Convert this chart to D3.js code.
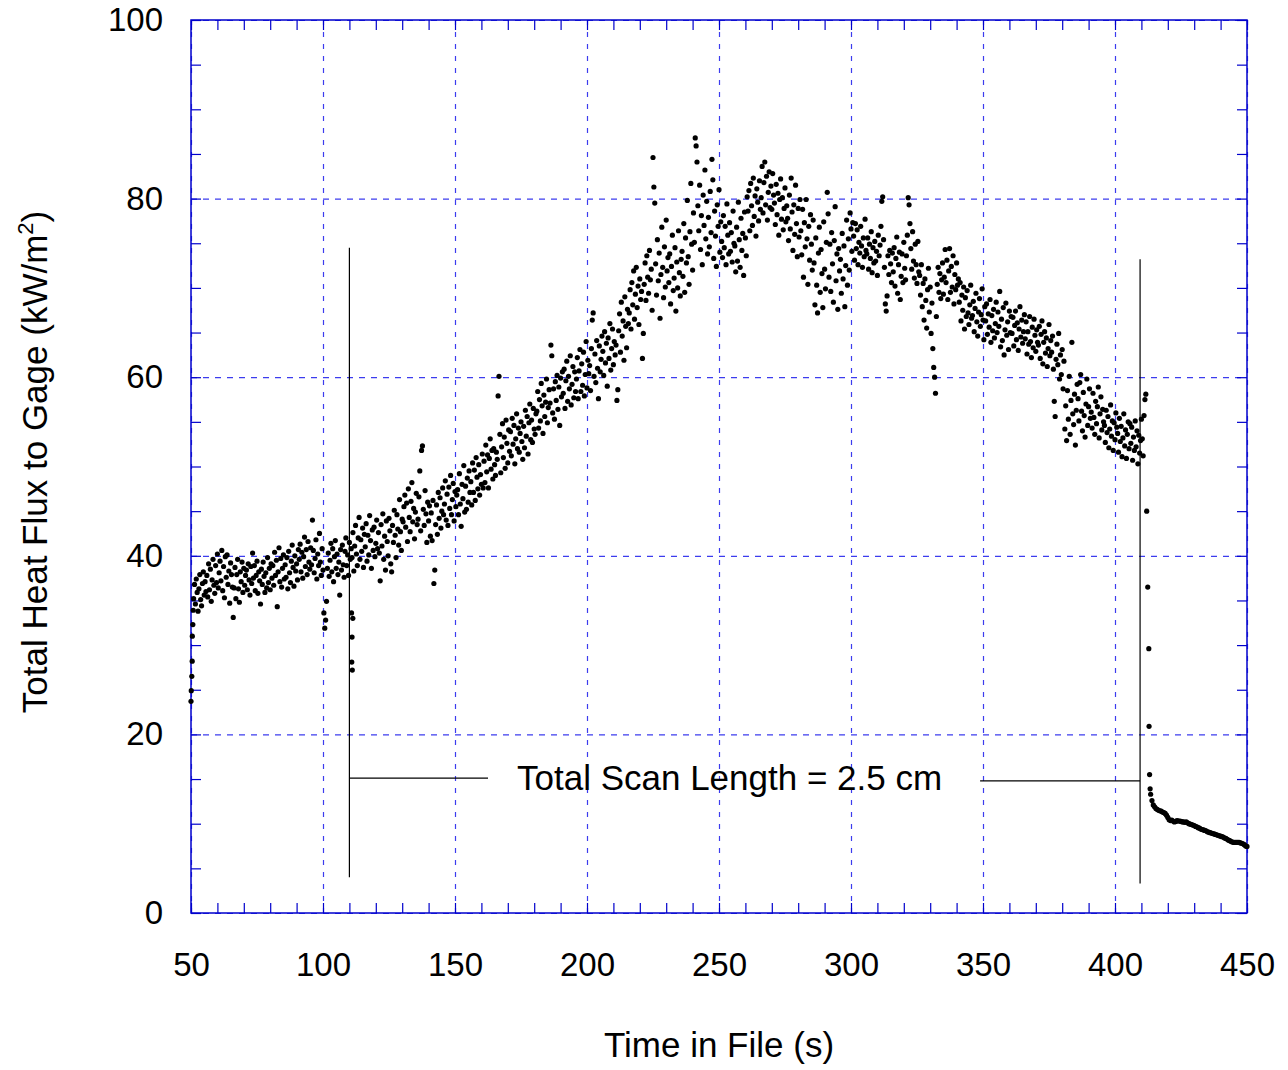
<!DOCTYPE html>
<html>
<head>
<meta charset="utf-8">
<script src="https://cdn.jsdelivr.net/npm/d3@7"></script>
<style>
  body { margin: 0; background: #fff; }
  svg { font-family: "Liberation Sans", Arial, sans-serif; }
</style>
</head>
<body>
<script>
// Sampled flux readings (kW/m2), 3 samples per second, each segment 50 s long
var timeStep = 1 / 3;
var segmentStarts = [51, 101, 151, 201, 251, 301, 351, 401];

var flux051 = [
  35.2, 36.8, 34.6, 37.4, 35.9, 33.8, 36.3, 37.9, 35.1, 34.4, 36.9, 38.2, 35.6, 37.1, 36.0,
  37.8, 35.4, 39.1, 36.2, 38.5, 34.9, 37.3, 39.6, 36.7, 35.8, 38.9, 37.0, 40.2, 36.4, 38.1,
  39.4, 37.2, 40.6, 36.1, 38.8, 35.3, 39.9, 37.6, 40.1, 36.8, 38.3, 34.7, 39.2, 37.9, 36.5,
  33.1, 36.4, 38.7, 35.2, 37.9, 39.6, 36.3, 34.8, 38.2, 37.1, 39.3, 35.9, 38.6, 36.7, 37.8,
  38.4, 36.2, 39.1, 37.3, 35.6, 38.8, 36.9, 40.3, 37.5, 38.9, 36.1, 37.8, 39.4, 35.8, 38.2,
  37.2, 34.6, 38.5, 36.8, 39.3, 37.7, 35.9, 38.1, 36.4, 39.8, 37.0, 38.6, 36.2, 39.1, 37.5,
  38.9, 36.7, 40.4, 37.8, 39.5, 34.3, 38.2, 40.9, 37.1, 39.7, 36.5, 38.6, 40.1, 37.4, 39.0,
  37.6, 39.8, 36.3, 40.5, 38.1, 37.0, 39.4, 41.2, 38.7, 36.6, 40.0, 38.3, 39.1, 37.3, 40.7,
  39.6, 41.3, 38.2, 40.4, 37.5, 39.9, 42.1, 38.8, 40.7, 37.9, 41.6, 39.3, 38.5, 40.9, 39.0,
  44.0, 40.6, 38.1, 39.7, 41.8, 37.4, 40.2, 38.9, 42.5, 39.3, 37.8, 40.8, 38.4, 33.6, 31.9
];
var flux101 = [
  32.8, 34.9, 38.6, 40.3, 37.7, 39.5, 41.4, 38.2, 40.8, 37.1, 39.9, 41.7, 38.6, 40.2, 37.9,
  39.3, 35.6, 40.7, 38.4, 41.2, 39.0, 37.6, 40.5, 42.0, 38.9, 40.1, 37.8, 41.5, 39.6, 40.8,
  39.8, 42.6, 38.3, 41.1, 43.4, 40.2, 38.9, 42.0, 44.3, 39.6, 41.8, 40.5, 43.1, 38.7, 42.4,
  41.0, 43.6, 39.4, 42.3, 40.1, 44.5, 41.7, 38.6, 42.9, 40.6, 43.2, 39.9, 41.4, 44.0, 40.8,
  42.6, 40.3, 37.2, 43.5, 41.1, 44.7, 39.6, 42.2, 38.4, 43.9, 41.6, 40.0, 44.2, 42.8, 39.1,
  38.2, 43.4, 41.5, 45.1, 42.3, 39.8, 44.6, 43.0, 41.2, 46.3, 42.7, 40.6, 44.1, 43.8, 45.5,
  46.8, 43.2, 45.9, 41.6, 47.5, 44.3, 42.7, 46.1, 48.2, 43.8, 45.3, 41.9, 44.9, 47.0, 43.5,
  44.1, 46.6, 49.5, 42.8, 51.8, 52.3, 45.2, 43.4, 47.3, 44.7, 41.5, 46.0, 43.9, 45.6, 42.2,
  44.8, 41.7, 46.2, 36.9, 38.4, 43.5, 45.7, 42.4, 47.1, 44.2, 46.5, 43.1, 45.0, 47.6, 44.6,
  45.8, 48.4, 44.0, 46.9, 43.4, 47.7, 45.3, 49.0, 44.6, 46.3, 48.1, 43.9, 47.2, 45.5, 46.8
];
var flux151 = [
  47.4, 44.6, 49.2, 45.8, 43.3, 48.0, 46.4, 50.1, 44.9, 47.8, 45.2, 48.7, 46.0, 49.5, 47.1,
  48.3, 45.7, 50.4, 47.1, 49.6, 46.2, 51.0, 48.8, 47.5, 50.2, 46.8, 49.1, 48.0, 51.4, 47.6,
  50.6, 48.2, 52.4, 49.4, 51.3, 47.6, 50.9, 53.1, 49.7, 51.8, 48.6, 52.0, 50.2, 49.0, 51.6,
  50.8, 57.9, 60.1, 53.6, 49.3, 52.2, 54.8, 51.0, 53.3, 49.8, 55.2, 52.6, 50.4, 54.1, 51.7,
  53.9, 51.2, 55.4, 52.5, 54.6, 50.3, 53.1, 55.9, 52.0, 54.3, 51.6, 53.7, 55.0, 52.8, 50.8,
  54.5, 52.1, 56.3, 53.4, 55.6, 51.4, 54.9, 57.0, 53.0, 55.2, 52.7, 56.5, 54.2, 53.6, 55.9,
  56.2, 58.4, 54.3, 57.5, 55.1, 59.3, 56.8, 53.7, 58.0, 55.6, 57.2, 59.8, 54.9, 56.6, 58.6,
  57.1, 63.6, 62.4, 56.0, 58.7, 55.3, 59.5, 57.4, 60.2, 56.4, 58.9, 54.6, 59.9, 57.8, 60.6,
  58.2, 60.9, 56.5, 59.6, 61.8, 57.3, 60.1, 58.7, 62.4, 56.9, 59.2, 61.2, 57.7, 60.6, 58.4,
  59.8, 62.2, 57.6, 60.7, 63.1, 58.4, 61.5, 59.1, 62.8, 57.9, 60.3, 64.0, 58.8, 61.9, 60.4
];
var flux201 = [
  61.3, 58.5, 63.2, 66.4, 67.2, 60.1, 62.6, 59.4, 64.1, 61.0, 57.6, 63.5, 60.6, 62.0, 64.6,
  62.9, 60.2, 65.1, 61.6, 63.8, 59.0, 64.4, 62.1, 66.0, 60.8, 63.2, 65.4, 61.4, 64.0, 62.5,
  63.6, 57.4, 58.6, 65.2, 67.1, 62.8, 68.4, 64.6, 66.3, 61.9, 69.0, 65.7, 63.3, 67.6, 66.0,
  67.2, 69.8, 65.4, 70.6, 68.1, 71.9, 66.5, 69.3, 72.3, 67.8, 70.2, 65.9, 71.0, 68.7, 69.6,
  62.1, 64.9, 70.4, 72.8, 68.6, 73.6, 71.2, 69.4, 74.2, 70.9, 72.1, 67.5, 84.6, 81.3, 79.5,
  72.7, 69.2, 75.4, 70.8, 73.9, 66.6, 71.5, 76.8, 72.3, 68.9, 74.6, 70.1, 77.6, 71.9, 73.4,
  70.6, 73.8, 68.2, 72.4, 75.9, 69.7, 71.1, 74.5, 67.4, 72.9, 70.0, 76.4, 71.7, 69.1, 73.2,
  74.1, 71.3, 77.2, 69.5, 75.6, 72.8, 79.8, 73.5, 70.4, 76.3, 81.7, 74.9, 72.0, 78.4, 75.1,
  86.8, 85.9, 84.1, 79.2, 76.4, 81.5, 74.3, 78.1, 72.6, 80.4, 77.0, 83.2, 75.5, 79.7, 73.8,
  77.9, 74.6, 80.8, 76.2, 84.4, 82.1, 73.3, 78.6, 75.8, 72.4, 79.3, 76.9, 81.0, 74.0, 77.4
];
var flux251 = [
  75.2, 73.4, 78.1, 74.5, 76.9, 72.6, 79.4, 75.9, 73.8, 77.3, 74.1, 76.2, 72.9, 78.6, 75.0,
  74.7, 71.8, 76.8, 73.0, 79.6, 75.4, 72.3, 77.8, 74.2, 76.1, 71.4, 78.5, 75.6, 73.6, 80.2,
  78.6, 80.9, 76.4, 81.7, 79.2, 77.0, 82.3, 78.0, 80.3, 75.8, 81.1, 79.6, 77.5, 82.0, 78.8,
  80.1, 83.6, 78.4, 81.8, 84.1, 79.3, 82.5, 77.6, 80.7, 83.0, 79.0, 81.4, 78.8, 82.8, 80.4,
  79.5, 77.1, 81.6, 78.2, 80.6, 75.9, 79.9, 82.2, 77.7, 80.1, 76.5, 78.9, 81.2, 77.4, 79.2,
  77.8, 75.3, 80.4, 76.6, 82.3, 78.5, 74.2, 79.3, 76.0, 81.5, 77.2, 73.5, 78.9, 75.7, 79.9,
  76.4, 73.7, 78.8, 71.2, 77.3, 74.6, 79.9, 75.5, 70.4, 76.9, 73.1, 78.2, 74.9, 72.0, 77.6,
  72.8, 68.1, 75.6, 70.3, 67.2, 73.9, 76.8, 69.5, 74.3, 71.6, 67.8, 77.4, 72.1, 69.9, 75.1,
  80.7, 78.3, 71.2, 74.9, 69.6, 76.2, 72.7, 68.4, 75.3, 79.1, 70.8, 73.8, 67.6, 74.4, 71.9,
  73.2, 69.4, 76.1, 71.0, 74.7, 67.9, 72.5, 77.6, 70.3, 75.5, 72.0, 78.4, 76.6, 74.1, 77.3
];
var flux301 = [
  75.8, 73.1, 77.2, 74.4, 76.5, 72.6, 75.1, 73.9, 76.9, 74.7, 72.3, 75.6, 73.5, 77.7, 74.2,
  73.8, 75.6, 72.1, 74.9, 73.3, 76.3, 71.7, 74.5, 72.8, 75.2, 73.0, 74.1, 71.4, 75.9, 73.6,
  74.8, 76.9, 79.7, 80.2, 75.4, 72.3, 68.2, 67.4, 69.1, 73.6, 71.5, 74.2, 72.7, 70.6, 73.9,
  71.8, 74.5, 70.2, 73.3, 75.7, 69.4, 72.6, 74.0, 68.7, 71.3, 73.8, 70.6, 75.1, 72.2, 70.9,
  73.6, 75.9, 80.1, 79.3, 77.2, 74.4, 72.1, 76.3, 73.0, 71.1, 74.9, 72.6, 70.5, 75.2, 71.8,
  71.4, 69.2, 72.6, 67.9, 70.5, 66.4, 71.0, 68.6, 65.5, 69.8, 72.2, 67.3, 70.1, 64.9, 68.3,
  63.2, 61.1, 60.0, 58.2, 66.8, 70.4, 72.3, 69.5, 71.6, 68.8, 70.9, 72.8, 69.3, 71.2, 74.3,
  70.6, 73.1, 68.7, 71.9, 74.4, 69.5, 72.4, 70.1, 73.6, 68.2, 71.5, 69.8, 72.8, 70.3, 71.0,
  68.4, 70.6, 66.3, 69.2, 67.5, 70.1, 65.4, 68.9, 66.8, 69.7, 67.2, 65.9, 68.1, 70.3, 66.6,
  66.9, 68.5, 65.1, 67.7, 69.4, 66.2, 64.6, 67.3, 68.8, 65.7, 67.0, 69.9, 66.4, 64.2, 67.9
];
var flux351 = [
  66.3, 68.2, 64.8, 67.1, 65.6, 68.7, 63.9, 66.9, 65.2, 67.6, 64.4, 66.0, 68.4, 65.0, 67.3,
  65.7, 69.6, 63.4, 66.5, 64.1, 67.8, 62.5, 65.3, 68.3, 64.7, 66.2, 63.1, 67.4, 65.0, 66.8,
  64.9, 66.7, 63.5, 65.8, 67.4, 64.2, 66.1, 63.0, 65.4, 67.9, 64.5, 66.4, 63.8, 65.1, 67.0,
  64.3, 66.2, 62.6, 65.1, 63.7, 66.8, 64.0, 62.2, 65.6, 63.3, 66.5, 64.7, 62.9, 65.3, 63.9,
  63.6, 65.7, 62.1, 64.8, 66.3, 61.5, 63.9, 65.1, 62.7, 64.4, 61.2, 63.2, 65.9, 62.4, 64.1,
  62.8, 64.6, 60.9, 57.3, 55.6, 62.0, 63.7, 61.4, 64.9, 59.8, 62.5, 60.3, 63.1, 58.7, 61.8,
  54.2, 56.8, 52.9, 58.5, 55.3, 60.1, 53.6, 57.4, 63.9, 55.9, 54.7, 58.1, 52.4, 56.3, 59.2,
  57.6, 55.1, 59.4, 60.3, 56.2, 54.0, 58.3, 55.7, 53.3, 57.0, 59.8, 54.6, 56.7, 58.7, 55.4,
  56.1, 54.3, 58.2, 55.5, 53.6, 57.3, 54.8, 56.7, 58.9, 53.2, 55.9, 57.8, 54.1, 56.4, 55.0,
  54.6, 52.7, 56.3, 53.8, 55.6, 52.1, 54.2, 56.9, 53.4, 55.1, 51.8, 54.9, 53.0, 56.0, 54.4
];
var flux401 = [
  53.7, 51.6, 55.4, 52.8, 54.5, 51.1, 53.2, 55.9, 52.3, 54.1, 50.9, 53.6, 55.0, 52.0, 54.8,
  52.6, 54.4, 50.7, 53.3, 51.8, 55.1, 52.2, 54.0, 50.3, 53.5, 51.5, 52.9, 55.3, 53.1, 51.2,
  55.7, 57.5, 58.1
];
var segments = [flux051, flux101, flux151, flux201, flux251, flux301, flux351, flux401];

// Irregular readings at the steep edges
var edgeTimes = [50.0, 50.1, 50.3, 50.45, 50.5, 50.7, 50.85,
                 110.8, 110.9, 111.0, 111.1, 111.3,
                 412.0, 412.4, 412.8, 412.9, 413.1, 413.3];
var edgeFlux  = [23.7, 24.9, 26.5, 28.2, 31.0, 32.3, 33.9,
                 33.6, 28.1, 30.9, 27.2, 33.0,
                 45.0, 36.5, 29.6, 20.9, 15.5, 13.9];

// Cool-down tail after the scan, 2 samples per second
var tailStart = 413.5;
var tailStep = 0.5;
var tailFlux = [
  13.3, 12.6, 12.1, 11.9, 11.7, 11.6, 11.5, 11.45, 11.4, 11.3, 11.25, 11.15, 10.95,
  10.7, 10.45, 10.35, 10.4, 10.3, 10.2, 10.25, 10.35, 10.3, 10.3, 10.25, 10.2, 10.2, 10.15, 10.2, 10.1, 10.0, 9.95, 9.9, 9.85,
  9.8, 9.7, 9.65, 9.55, 9.5, 9.4, 9.35, 9.3, 9.25, 9.2, 9.1, 9.05, 9.0, 8.95, 8.9, 8.85, 8.8, 8.75, 8.7, 8.65,
  8.6, 8.55, 8.5, 8.4, 8.35, 8.25, 8.15, 8.1, 8.0, 7.95, 7.9, 7.9, 7.9, 7.9, 7.9, 7.85, 7.8, 7.75, 7.65, 7.5, 7.45
];

// Axis ticks
var xTicks = [50, 100, 150, 200, 250, 300, 350, 400, 450];
var yTicks = [0, 20, 40, 60, 80, 100];

// Scan-length marker lines, in data units [t1, v1, t2, v2]
var scanLines = [
  [110, 74.5, 110, 4.0],
  [409.5, 73.2, 409.5, 3.3],
  [110, 15.1, 162.5, 15.1],
  [348.9, 14.8, 409.5, 14.8]
];
var scanLabel = "Total Scan Length = 2.5 cm";

// Build the point list
var points = [];
segments.forEach(function (vals, i) {
  vals.forEach(function (v, j) {
    points.push({ t: segmentStarts[i] + j * timeStep, v: v });
  });
});
edgeTimes.forEach(function (t, i) {
  points.push({ t: t, v: edgeFlux[i] });
});
tailFlux.forEach(function (v, i) {
  points.push({ t: tailStart + i * tailStep, v: v });
});

var svgWidth = 1288;
var svgHeight = 1070;
var margin = { top: 20, right: 41, bottom: 157, left: 191 };
var plotW = svgWidth - margin.left - margin.right;
var plotH = svgHeight - margin.top - margin.bottom;

var svg = d3.select("body")
  .append("svg")
  .attr("width", svgWidth)
  .attr("height", svgHeight);

var g = svg.append("g")
  .attr("transform", "translate(" + margin.left + "," + margin.top + ")");

var x = d3.scaleLinear().domain([50, 450]).range([0, plotW]);
var y = d3.scaleLinear().domain([0, 100]).range([plotH, 0]);

var blue = "#0000cc";
var gridBlue = "#3c3cee";

// Grid lines
g.append("g")
  .attr("transform", "translate(0," + plotH + ")")
  .call(d3.axisBottom(x).tickValues(xTicks).tickSize(-plotH).tickFormat(""))
  .call(function (s) {
    s.select(".domain").remove();
    s.selectAll("line").attr("stroke", gridBlue).attr("stroke-width", 1.2).attr("stroke-dasharray", "5,7");
  });
g.append("g")
  .call(d3.axisLeft(y).tickValues(yTicks).tickSize(-plotW).tickFormat(""))
  .call(function (s) {
    s.select(".domain").remove();
    s.selectAll("line").attr("stroke", gridBlue).attr("stroke-width", 1.2).attr("stroke-dasharray", "6,6");
  });

// Minor tick marks on all four sides, pointing inward
var xMinor = d3.range(50, 451, 10);
var yMinor = d3.range(0, 101, 5);
function styleTicks(s) {
  s.select(".domain").remove();
  s.selectAll("line").attr("stroke", blue).attr("stroke-width", 1.2);
}
g.append("g").attr("transform", "translate(0," + plotH + ")")
  .call(d3.axisBottom(x).tickValues(xMinor).tickSize(-10).tickFormat("")).call(styleTicks);
g.append("g")
  .call(d3.axisTop(x).tickValues(xMinor).tickSize(-10).tickFormat("")).call(styleTicks);
g.append("g")
  .call(d3.axisLeft(y).tickValues(yMinor).tickSize(-10).tickFormat("")).call(styleTicks);
g.append("g").attr("transform", "translate(" + plotW + ",0)")
  .call(d3.axisRight(y).tickValues(yMinor).tickSize(-10).tickFormat("")).call(styleTicks);

// Plot frame
g.append("rect")
  .attr("width", plotW)
  .attr("height", plotH)
  .attr("fill", "none")
  .attr("stroke", blue)
  .attr("stroke-width", 1.5);

// Tick labels
g.append("g")
  .attr("transform", "translate(0," + plotH + ")")
  .call(d3.axisBottom(x).tickValues(xTicks).tickSize(0).tickPadding(40))
  .call(function (s) {
    s.select(".domain").remove();
    s.selectAll("text").attr("font-size", 33).attr("fill", "#000")
      .attr("font-family", "Liberation Sans, Arial, sans-serif");
  });
g.append("g")
  .call(d3.axisLeft(y).tickValues(yTicks).tickSize(0).tickPadding(28))
  .call(function (s) {
    s.select(".domain").remove();
    s.selectAll("text").attr("font-size", 33).attr("fill", "#000")
      .attr("font-family", "Liberation Sans, Arial, sans-serif");
  });

// Scan-length marker
g.selectAll(".scan")
  .data(scanLines)
  .enter()
  .append("line")
  .attr("class", "scan")
  .attr("x1", function (d) { return x(d[0]); })
  .attr("y1", function (d) { return y(d[1]); })
  .attr("x2", function (d) { return x(d[2]); })
  .attr("y2", function (d) { return y(d[3]); })
  .attr("stroke", "#000")
  .attr("stroke-width", 1.2);

g.append("text")
  .attr("x", x(254))
  .attr("y", y(13.8))
  .attr("text-anchor", "middle")
  .attr("font-size", 35)
  .text(scanLabel);

// Data points
g.selectAll(".pt")
  .data(points)
  .enter()
  .append("circle")
  .attr("class", "pt")
  .attr("cx", function (d) { return x(d.t); })
  .attr("cy", function (d) { return y(d.v); })
  .attr("r", 2.6)
  .attr("fill", "#000");

// Axis titles
svg.append("text")
  .attr("x", 719)
  .attr("y", 1057)
  .attr("text-anchor", "middle")
  .attr("font-size", 35)
  .text("Time in File (s)");

var yTitle = svg.append("text")
  .attr("transform", "translate(47,462) rotate(-90)")
  .attr("text-anchor", "middle")
  .attr("font-size", 35);
yTitle.append("tspan").text("Total Heat Flux to Gage (kW/m");
yTitle.append("tspan").attr("font-size", 22).attr("dy", -14).text("2");
yTitle.append("tspan").attr("dy", 14).text(")");
</script>
</body>
</html>
